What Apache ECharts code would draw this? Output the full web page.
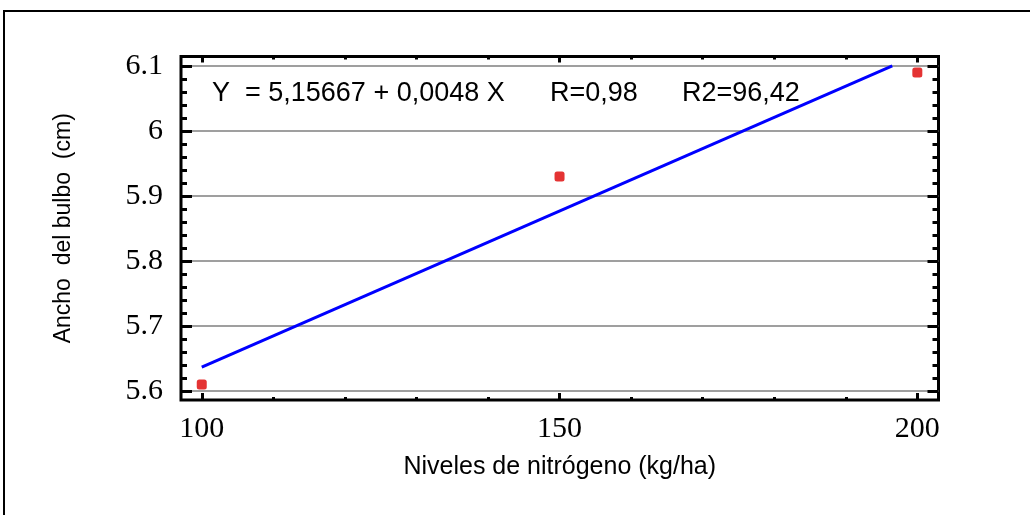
<!DOCTYPE html>
<html>
<head>
<meta charset="utf-8">
<script src="https://cdn.jsdelivr.net/npm/echarts@6/dist/echarts.min.js"></script>
<style>
  html, body { margin: 0; padding: 0; background: #fff; }
  #main { width: 1030px; height: 515px; }
</style>
</head>
<body>
<div id="main"></div>
<script>
// observed points
const nitrogen = [100, 150, 200];
const bulbWidth = [5.61, 5.93, 6.09];
// fitted line ends (clipped at the 6.1 gridline)
const fitX = [100, 196.5];
const fitY = [5.6367, 6.1];
// ticks
const xMajor = [100, 150, 200];
const xMinor = [110, 120, 130, 140, 160, 170, 180, 190];
const yMajor = [5.6, 5.7, 5.8, 5.9, 6.0, 6.1];
const yMinor = [];
for (let i = 0; i < yMajor.length - 1; i++) {
  for (let k = 1; k < 5; k++) yMinor.push(+(yMajor[i] + k * 0.02).toFixed(2));
}
// fit summary, written in three pieces as in the figure
const statTexts = ["Y  = 5,15667 + 0,0048 X", "R=0,98", "R2=96,42"];
const statLeft = [212, 550, 682];

const xMin = 97.1, xMax = 202.96;
const yMin = 5.586, yMax = 6.1146;

let tickStyle = (w) => ({ color: "#000", width: w });

let xAxisOf = (pos, values, len, labels) => ({
  type: "value",
  position: pos,
  min: xMin,
  max: xMax,
  axisLine: { show: false },
  splitLine: { show: false },
  axisTick: { show: true, inside: true, length: len, customValues: values, lineStyle: tickStyle(3) },
  axisLabel: labels
    ? { show: true, customValues: values, margin: 14, color: "#000", fontFamily: "Liberation Serif", fontSize: 30 }
    : { show: false },
});

let yAxisOf = (pos, values, len, labels, grid) => ({
  type: "value",
  position: pos,
  min: yMin,
  max: yMax,
  axisLine: { show: false },
  splitLine: { show: !!grid, lineStyle: { color: "#9f9f9f", width: 2 } },
  axisTick: { show: true, inside: true, length: len, customValues: values, lineStyle: tickStyle(3) },
  axisLabel: labels
    ? {
        show: true,
        customValues: values,
        margin: 18,
        color: "#000",
        fontFamily: "Liberation Serif",
        fontSize: 30,
        formatter: (v) => String(+v.toFixed(2)),
      }
    : { show: false },
});

let xBottom = xAxisOf("bottom", xMajor, 7, true);
xBottom.name = "Niveles de nitrógeno (kg/ha)";
xBottom.nameLocation = "middle";
xBottom.nameGap = 55;
xBottom.nameTextStyle = { fontFamily: "Liberation Sans", fontSize: 25, color: "#000" };

let yLeft = yAxisOf("left", yMajor, 11, true, true);
yLeft.name = "Ancho  del bulbo  (cm)";
yLeft.nameLocation = "middle";
yLeft.nameGap = 106;
yLeft.nameTextStyle = { fontFamily: "Liberation Sans", fontSize: 23, color: "#000" };

let graphics = [
  {
    type: "rect",
    shape: { x: 4, y: 11, width: 1040, height: 530 },
    style: { fill: "none", stroke: "#000", lineWidth: 2 },
    silent: true,
  },
];
statTexts.forEach((t, i) => {
  graphics.push({
    type: "text",
    left: statLeft[i],
    top: 80,
    style: { text: t, fontFamily: "Liberation Sans", fontSize: 27, fill: "#000" },
  });
});

let option = {
  backgroundColor: "#fff",
  animation: false,
  grid: {
    left: 181,
    right: 91.5,
    top: 56.5,
    bottom: 115,
    show: true,
    borderColor: "#000",
    borderWidth: 3,
    containLabel: false,
  },
  xAxis: [
    xBottom,
    xAxisOf("bottom", xMinor, 3, false),
    xAxisOf("top", xMajor, 6, false),
    xAxisOf("top", xMinor, 3, false),
  ],
  yAxis: [
    yLeft,
    yAxisOf("left", yMinor, 6, false, false),
    yAxisOf("right", yMajor, 11, false, false),
    yAxisOf("right", yMinor, 6, false, false),
  ],
  graphic: graphics,
  series: [
    {
      type: "line",
      xAxisIndex: 0,
      yAxisIndex: 0,
      data: fitX.map((x, i) => [x, fitY[i]]),
      symbol: "none",
      lineStyle: { color: "#0000ff", width: 3 },
      z: 3,
    },
    {
      type: "scatter",
      xAxisIndex: 0,
      yAxisIndex: 0,
      data: nitrogen.map((x, i) => [x, bulbWidth[i]]),
      symbol: "roundRect",
      symbolSize: 10,
      itemStyle: { color: "#dd0000" },
      z: 4,
    },
  ],
};

var myChart = echarts.init(document.getElementById("main"));
myChart.setOption(option);
</script>
</body>
</html>
